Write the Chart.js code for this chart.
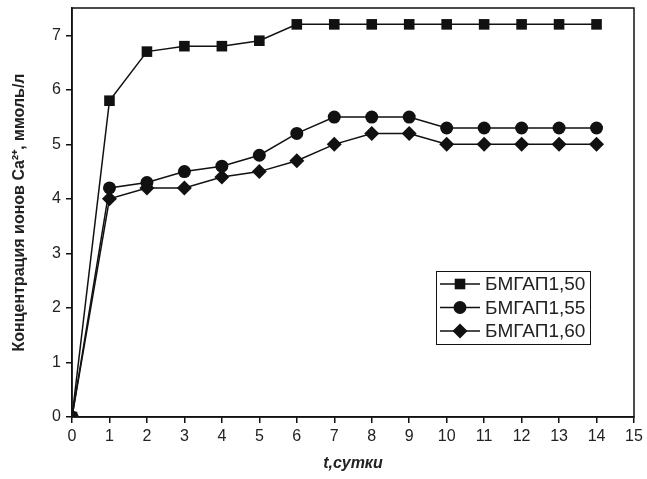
<!DOCTYPE html>
<html lang="ru">
<head>
<meta charset="UTF-8">
<title>Концентрация ионов Ca2+</title>
<script src="https://cdn.jsdelivr.net/npm/chart.js"></script>
<style>
    html, body { margin: 0; padding: 0; background: #fff; }
    #wrap { width: 647px; height: 479px; position: relative; }
</style>
</head>
<body>
<div id="wrap"><canvas id="chart"></canvas></div>
<script>
    // days
    const days = [0, 1, 2, 3, 4, 5, 6, 7, 8, 9, 10, 11, 12, 13, 14];
    // Ca2+ concentration, mmol/l
    const bmgap150 = [0, 5.8, 6.7, 6.8, 6.8, 6.9, 7.2, 7.2, 7.2, 7.2, 7.2, 7.2, 7.2, 7.2, 7.2];
    const bmgap155 = [0, 4.2, 4.3, 4.5, 4.6, 4.8, 5.2, 5.5, 5.5, 5.5, 5.3, 5.3, 5.3, 5.3, 5.3];
    const bmgap160 = [0, 4.0, 4.2, 4.2, 4.4, 4.5, 4.7, 5.0, 5.2, 5.2, 5.0, 5.0, 5.0, 5.0, 5.0];
    const seriesNames = ['БМГАП1,50', 'БМГАП1,55', 'БМГАП1,60'];
    const markers = ['rect', 'circle', 'rectRot'];
    const markerSize = [7.5, 6.5, 7.5];

    const ink = '#111';
    const font = 'Arial, "Liberation Sans", sans-serif';

    function toPoints(vals) {
        return vals.map((v, i) => ({ x: days[i], y: v }));
    }

    const datasets = [bmgap150, bmgap155, bmgap160].map((vals, k) => ({
        label: seriesNames[k],
        data: toPoints(vals),
        borderColor: ink,
        backgroundColor: ink,
        borderWidth: 1.5,
        pointStyle: markers[k],
        pointRadius: markerSize[k],
        pointBorderWidth: 0,
        tension: 0
    }));

    // frame round the plot area + legend box inside it
    const framePlugin = {
        id: 'frame',
        afterDraw(chart) {
            const { ctx, chartArea: a } = chart;
            ctx.save();
            ctx.strokeStyle = ink;
            ctx.lineWidth = 1.5;
            ctx.strokeRect(a.left, a.top, a.right - a.left, a.bottom - a.top);

            // legend
            const bx = 436, by = 271, bw = 154, bh = 73;
            ctx.lineWidth = 1;
            ctx.fillStyle = '#fff';
            ctx.fillRect(bx, by, bw, bh);
            ctx.strokeRect(bx + 0.5, by + 0.5, bw, bh);
            ctx.font = '19px ' + font;
            ctx.textBaseline = 'middle';
            chart.data.datasets.forEach((ds, k) => {
                const y = by + 13 + k * 23.5;
                ctx.strokeStyle = ink;
                ctx.lineWidth = 1.5;
                ctx.beginPath();
                ctx.moveTo(bx + 4, y);
                ctx.lineTo(bx + 44, y);
                ctx.stroke();
                ctx.fillStyle = ink;
                Chart.helpers.drawPoint(ctx, {
                    pointStyle: ds.pointStyle,
                    radius: ds.pointRadius,
                    rotation: 0,
                    borderWidth: 0
                }, bx + 24, y);
                ctx.fillStyle = '#222';
                ctx.fillText(ds.label, bx + 49, y + 1);
            });
            ctx.restore();
        }
    };

    new Chart(document.getElementById('chart'), {
        type: 'line',
        data: { datasets },
        options: {
            responsive: true,
            maintainAspectRatio: false,
            animation: false,
            layout: { padding: { top: 8, right: 13, left: 6, bottom: 0 } },
            plugins: {
                legend: { display: false },
                tooltip: { enabled: false }
            },
            scales: {
                x: {
                    type: 'linear',
                    min: 0,
                    max: 15,
                    afterFit(s) { s.height = 62; },
                    grid: { display: true, drawOnChartArea: false, color: ink, lineWidth: 1.5, tickLength: 6 },
                    border: { display: true, color: ink, width: 1.5 },
                    ticks: { stepSize: 1, color: '#222', padding: 4, font: { family: font, size: 16 } },
                    title: {
                        display: true,
                        text: 't,сутки',
                        color: '#222',
                        padding: { top: 4, bottom: 6 },
                        font: { family: font, size: 16, weight: 'bold', style: 'italic' }
                    }
                },
                y: {
                    min: 0,
                    max: 7.5,
                    afterFit(s) { s.width = 66; s.paddingTop = 0; s.paddingBottom = 0; },
                    afterBuildTicks(s) { s.ticks = s.ticks.filter(t => Number.isInteger(t.value)); },
                    grid: { display: true, drawOnChartArea: false, color: ink, lineWidth: 1.5, tickLength: 6 },
                    border: { display: true, color: ink, width: 1.5 },
                    ticks: { stepSize: 1, color: '#222', padding: 5, font: { family: font, size: 16 } },
                    title: {
                        display: true,
                        text: 'Концентрация ионов Ca²⁺, ммоль/л',
                        color: '#222',
                        padding: { bottom: 0 },
                        font: { family: font, size: 16, weight: 'bold' }
                    }
                }
            }
        },
        plugins: [framePlugin]
    });
</script>
</body>
</html>
